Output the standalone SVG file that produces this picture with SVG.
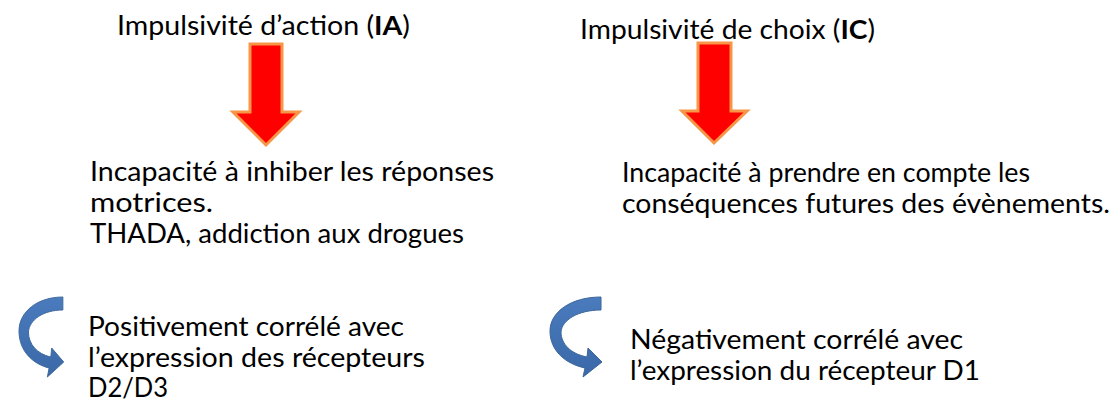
<svg xmlns="http://www.w3.org/2000/svg" width="1113" height="409" viewBox="0 0 1113 409">
<style>
  text { font-family: Lato, "Liberation Sans", sans-serif; font-size: 27px; fill: #000; }
  .b { font-weight: bold; }
  .down { fill: #ff0000; stroke: #f79646; stroke-width: 3; stroke-linejoin: miter; }
  .curve { fill: url(#blue); stroke: #3a6699; stroke-width: 1; }
</style>
<defs>
  <linearGradient id="blue" x1="0" y1="0" x2="0" y2="1">
    <stop offset="0" stop-color="#4a7bbd"/>
    <stop offset="1" stop-color="#3a68a8"/>
  </linearGradient>
  <path id="uturn" d="M601,297 C571,297 550,312 550,331 C550,351 566,364 585,368 L583,377 L602,362 L588,348 L587,357 C571,354 561,344 561,332 C562,320 578,310 601,310 Z"/>
</defs>

<g id="title-ia">
  <text x="117" y="35" textLength="293" lengthAdjust="spacingAndGlyphs">Impulsivité d’action (<tspan class="b">IA</tspan>)</text>
</g>
<g id="title-ic">
  <text x="580" y="39" textLength="295" lengthAdjust="spacingAndGlyphs">Impulsivité de choix (<tspan class="b">IC</tspan>)</text>
</g>

<g id="connectors">
  <polygon class="down" points="250,44 282,44 282,112 299,112 266,145 233,112 250,112"/>
  <polygon class="down" points="698,43 731,43 731,111 747,111 714,143 682,111 698,111"/>
  <use href="#uturn" class="curve" transform="translate(19,0) scale(0.86,1) translate(-550,0)"/>
  <use href="#uturn" class="curve"/>
</g>

<g id="desc-ia">
  <text x="90" y="181" textLength="404" lengthAdjust="spacingAndGlyphs">Incapacité à inhiber les réponses</text>
  <text x="90" y="212" textLength="123" lengthAdjust="spacingAndGlyphs">motrices.</text>
  <text x="90" y="243" textLength="374" lengthAdjust="spacingAndGlyphs">THADA, addiction aux drogues</text>
</g>
<g id="desc-ic">
  <text x="622" y="182" textLength="408" lengthAdjust="spacingAndGlyphs">Incapacité à prendre en compte les</text>
  <text x="622" y="213" textLength="488" lengthAdjust="spacingAndGlyphs">conséquences futures des évènements.</text>
</g>

<g id="corr-ia">
  <text x="88" y="336" textLength="316" lengthAdjust="spacingAndGlyphs">Positivement corrélé avec</text>
  <text x="88" y="366.5" textLength="337" lengthAdjust="spacingAndGlyphs">l’expression des récepteurs</text>
  <text x="88" y="397" textLength="80" lengthAdjust="spacingAndGlyphs">D2/D3</text>
</g>
<g id="corr-ic">
  <text x="630" y="349" textLength="333" lengthAdjust="spacingAndGlyphs">Négativement corrélé avec</text>
  <text x="630" y="380" textLength="350" lengthAdjust="spacingAndGlyphs">l’expression du récepteur D1</text>
</g>
</svg>
